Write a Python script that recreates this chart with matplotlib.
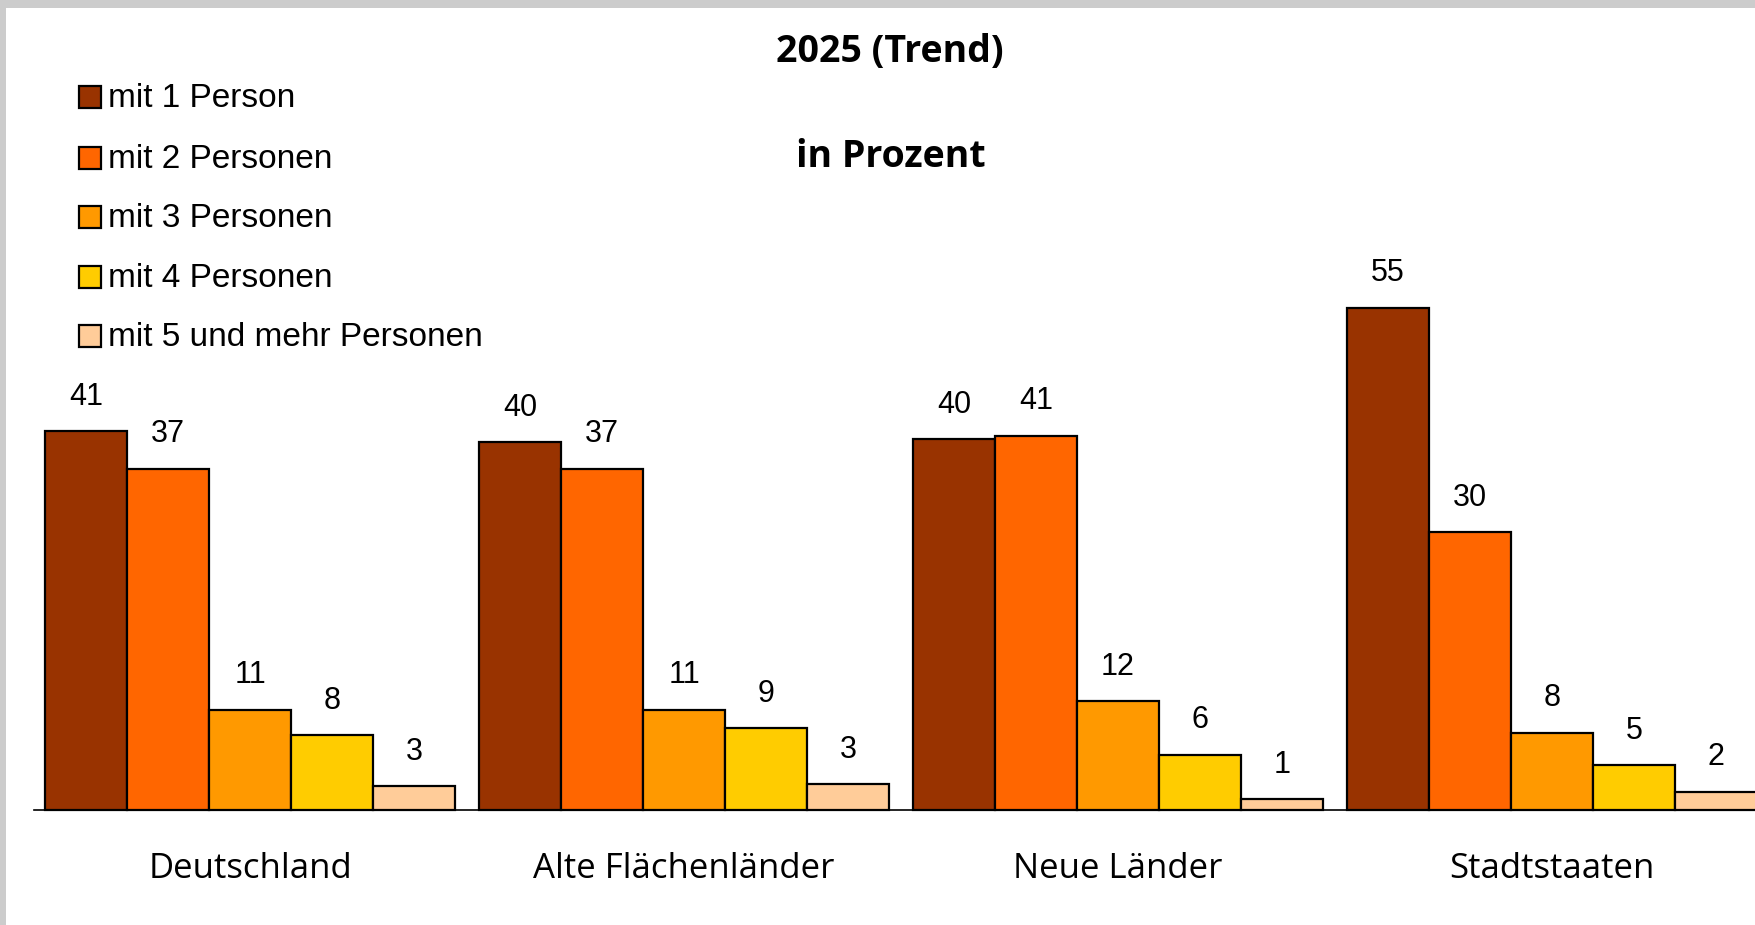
import matplotlib
matplotlib.use("Agg")
import matplotlib.pyplot as plt
from matplotlib.patches import Rectangle
from matplotlib.transforms import blended_transform_factory

categories = ["Deutschland", "Alte Flächenländer", "Neue Länder", "Stadtstaaten"]
series_labels = ["mit 1 Person", "mit 2 Personen", "mit 3 Personen",
                 "mit 4 Personen", "mit 5 und mehr Personen"]
# bar heights
values_1 = [41.2, 40.0, 40.3, 54.6]
values_2 = [37.1, 37.1, 40.7, 30.2]
values_3 = [10.9, 10.9, 11.8, 8.4]
values_4 = [8.1, 8.9, 6.0, 4.9]
values_5 = [2.6, 2.8, 1.2, 2.0]
series_values = [values_1, values_2, values_3, values_4, values_5]
# printed (rounded) labels
labels_1 = [41, 40, 40, 55]
labels_2 = [37, 37, 41, 30]
labels_3 = [11, 11, 12, 8]
labels_4 = [8, 9, 6, 5]
labels_5 = [3, 3, 1, 2]
series_printed = [labels_1, labels_2, labels_3, labels_4, labels_5]
colors = ["#993300", "#FF6600", "#FF9900", "#FFCC00", "#FFCC99"]
title = "2025 (Trend)"
subtitle = "in Prozent"

W, H = 1755, 925
fig = plt.figure(figsize=(W / 100, H / 100), dpi=100)
fig.patch.set_facecolor("white")

def fx(px):
    return px / W

def fy(py):
    return 1 - py / H

# grey frame (top and left)
fig.patches.append(Rectangle((0, fy(8)), 1, 8 / H, transform=fig.transFigure,
                             facecolor="#CCCCCC", edgecolor="none", zorder=0))
fig.patches.append(Rectangle((0, 0), fx(6), 1, transform=fig.transFigure,
                             facecolor="#CCCCCC", edgecolor="none", zorder=0))

base_px = 810
left_px = 34.4
ax = fig.add_axes([fx(left_px), fy(base_px), 1 - fx(left_px), base_px / H])
ax.set_facecolor("none")

bar_px = 82.1
pitch = 434.0 / bar_px
offset = (44.8 - left_px) / bar_px
ax.set_xlim(-offset, -offset + (W - left_px) / bar_px)
ax.set_ylim(0, base_px / 9.2)

bar_font = "Liberation Sans"
for i, (vals, labs, col) in enumerate(zip(series_values, series_printed, colors)):
    xs = [g * pitch + i for g in range(len(categories))]
    bars = ax.bar(xs, vals, width=1.0, align="edge", color=col,
                  edgecolor="black", linewidth=1.6, zorder=2, clip_on=False)
    for b, lab in zip(bars, labs):
        ax.annotate(str(lab), (b.get_x() + 0.5, b.get_height()),
                    xytext=(0, 19), textcoords="offset points",
                    ha="center", va="baseline", fontsize=22,
                    family=bar_font, color="black")

for s in ["top", "right", "left"]:
    ax.spines[s].set_visible(False)
ax.spines["bottom"].set_linewidth(1.2)
ax.spines["bottom"].set_zorder(3)
ax.set_xticks([])
ax.set_yticks([])

cat_font = ["Open Sans", "DejaVu Sans"]
tr = blended_transform_factory(ax.transData, fig.transFigure)
for g, c in enumerate(categories):
    ax.text(g * pitch + 2.5, fy(878), c, transform=tr, ha="center",
            va="baseline", fontsize=25, family=cat_font, color="black")

fig.text(fx(890), fy(62), title, ha="center", va="baseline", fontsize=27,
         fontweight="bold", family=cat_font)
fig.text(fx(891), fy(167), subtitle, ha="center", va="baseline", fontsize=27,
         fontweight="bold", family=cat_font)

# legend
row_centers = [97, 158, 217, 277, 336]
sq = 22
for lab, col, yc in zip(series_labels, colors, row_centers):
    fig.patches.append(Rectangle((fx(79), fy(yc + sq / 2)), sq / W, sq / H,
                                 transform=fig.transFigure, facecolor=col,
                                 edgecolor="black", linewidth=1.6))
    fig.text(fx(108.5), fy(yc + 10), lab, ha="left", va="baseline",
             fontsize=24, family=bar_font)

fig.savefig("out.png", dpi=100)
